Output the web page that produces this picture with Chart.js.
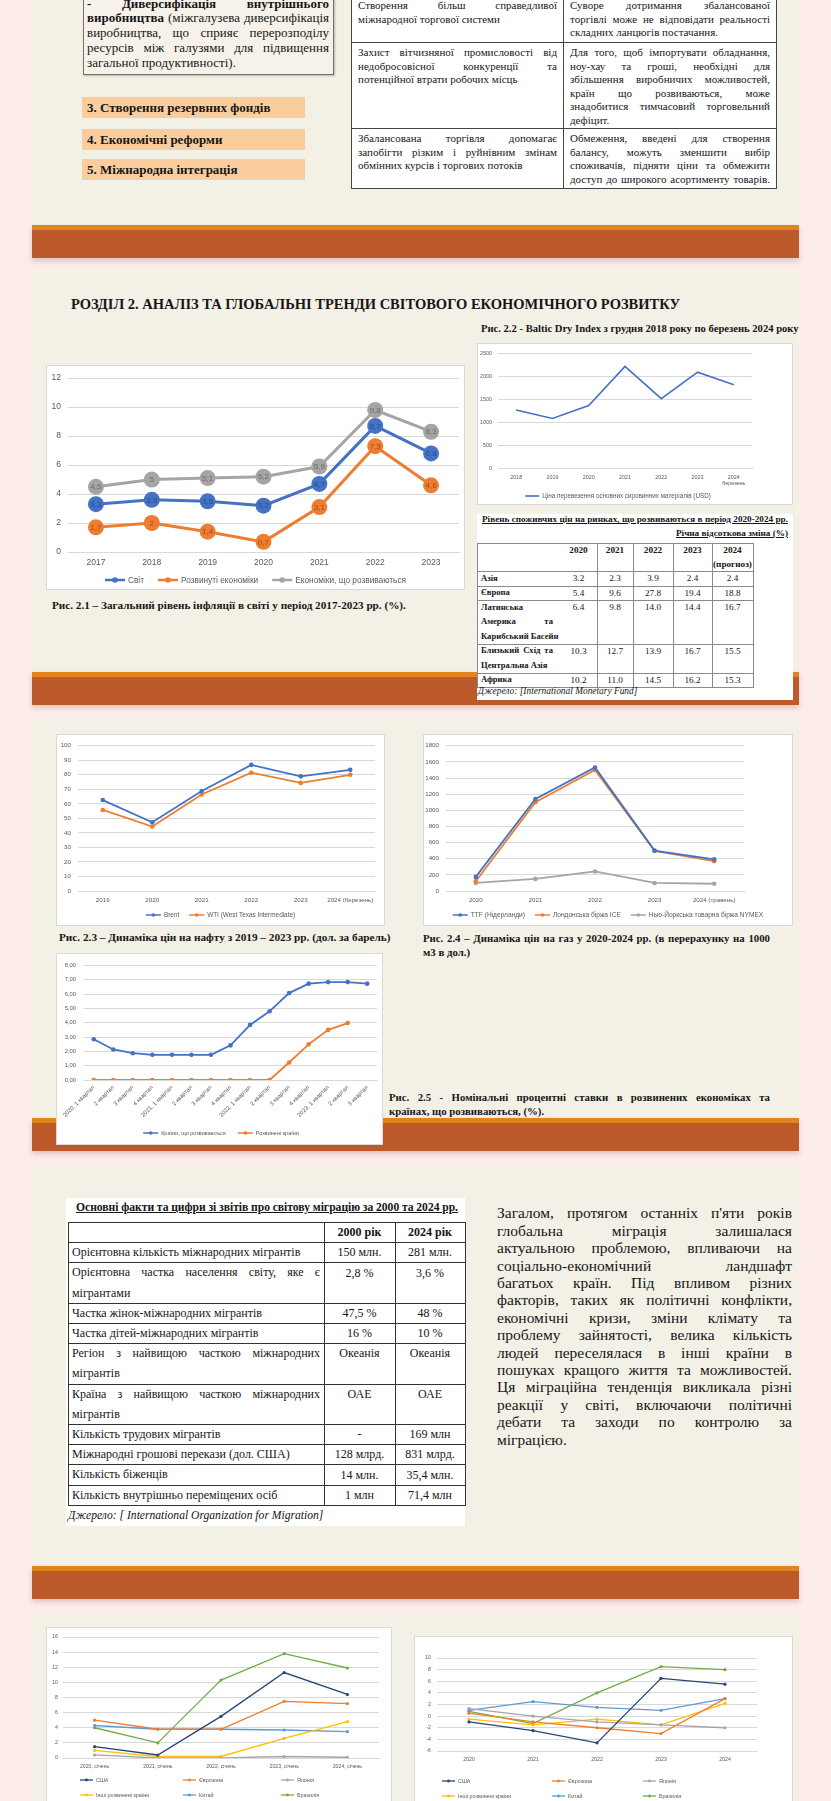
<!DOCTYPE html>
<html lang="uk">
<head>
<meta charset="utf-8">
<title>Розділ 2. Аналіз та глобальні тренди</title>
<script src="https://cdn.jsdelivr.net/npm/chart.js@4.4.1/dist/chart.umd.min.js"></script>
<style>
  html, body { margin: 0; padding: 0; }
  body { position: relative; width: 831px; height: 1801px; overflow: hidden; background: #fcecea;
         font-family: "Liberation Serif", "Times New Roman", serif; color: #161616; }
  .panel { position: absolute; left: 32px; width: 767px; background: #f3f0e6; }
  .band { position: absolute; left: 32px; width: 767px; height: 33px; background: #bc5a2c;
          border-top: 5px solid #e3821f; box-sizing: border-box; box-shadow: 0 3px 5px rgba(150, 80, 60, 0.25); }
  .box { position: absolute; background: #fff; border: 1px solid #d9d9d9; box-sizing: border-box; }
  .sheet { position: absolute; background: #fff; }
  .blk { position: absolute; }
  .ln { white-space: nowrap; }
  .hl { position: absolute; height: 1px; background: #555; }
  .vl { position: absolute; width: 1px; background: #555; }
  .tag { position: absolute; left: 82px; width: 223px; height: 21px; background: #f9cd9e;
         font-weight: bold; font-size: 13px; line-height: 21px; padding-left: 5px; box-sizing: border-box; }
  canvas { position: absolute; left: 0; top: 0; }
</style>
</head>
<body>

<div class="panel" style="top:-10px;height:235px"></div>
<div class="band" style="top:225px"></div>
<div class="panel" style="top:273px;height:399px"></div>
<div class="band" style="top:672px"></div>
<div class="panel" style="top:720px;height:398px"></div>
<div class="band" style="top:1118px"></div>
<div class="panel" style="top:1167px;height:399px"></div>
<div class="band" style="top:1566px"></div>
<div class="panel" style="top:1615px;height:200px"></div>

<!-- верхній блок -->
<div style="position:absolute;left:83px;top:-12px;width:251px;height:87px;background:#f6f2e9;border:1px solid #7d6e62;box-shadow:1px 1px 2px rgba(0,0,0,0.25);box-sizing:border-box"></div>
<div class="tag" style="top:97px">3. Створення резервних фондів</div>
<div class="tag" style="top:129px">4. Економічні реформи</div>
<div class="tag" style="top:159px">5. Міжнародна інтеграція</div>
<div class="sheet" style="left:351px;top:-10px;width:425px;height:198px"></div>

<div class="blk" style="left:71px;top:296px;font-weight:bold;font-size:14.5px;line-height:16px">РОЗДІЛ 2. АНАЛІЗ ТА ГЛОБАЛЬНІ ТРЕНДИ СВІТОВОГО ЕКОНОМІЧНОГО РОЗВИТКУ</div>

<div class="box" style="left:46px;top:365px;width:419px;height:225px"><canvas id="c21" width="417" height="223"></canvas></div>
<div class="blk" style="left:52px;top:598px;font-weight:bold;font-size:11.2px;line-height:14px">Рис. 2.1 – Загальний рівень інфляції в світі у період 2017-2023 рр. (%).</div>

<div class="blk" style="left:481px;top:323px;font-weight:bold;font-size:10.6px;line-height:12px">Рис. 2.2 - Baltic Dry Index з грудня 2018 року по березень 2024 року</div>
<div class="box" style="left:477px;top:343px;width:316px;height:162px"><canvas id="c22" width="314" height="160"></canvas></div>

<div class="sheet" style="left:477px;top:514px;width:316px;height:186px"></div>

<div class="box" style="left:56px;top:734px;width:329px;height:192px"><canvas id="c23" width="327" height="190"></canvas></div>
<div class="box" style="left:423px;top:734px;width:370px;height:192px"><canvas id="c24" width="368" height="190"></canvas></div>
<div class="blk" style="left:59px;top:930px;font-weight:bold;font-size:11.25px;line-height:14px">Рис. 2.3 – Динаміка цін на нафту з 2019 – 2023 рр. (дол. за барель)</div>

<div class="box" style="left:56px;top:953px;width:327px;height:192px"><canvas id="c25" width="325" height="190"></canvas></div>

<div class="sheet" style="left:66px;top:1198px;width:399px;height:328px"></div>

<div class="box" style="left:46px;top:1627px;width:346px;height:190px"><canvas id="cb1" width="344" height="188"></canvas></div>
<div class="box" style="left:414px;top:1636px;width:379px;height:180px"><canvas id="cb2" width="377" height="178"></canvas></div>

<script>
// Рис. 2.1 – інфляція, %
const inflYears = ["2017", "2018", "2019", "2020", "2021", "2022", "2023"];
const inflWorld = [3.3, 3.6, 3.5, 3.2, 4.7, 8.7, 6.8];
const inflAdvanced = [1.7, 2, 1.4, 0.7, 3.1, 7.3, 4.6];
const inflEmerging = [4.5, 5, 5.1, 5.2, 5.9, 9.8, 8.3];
const inflTicks = [0, 2, 4, 6, 8, 10, 12];

// Рис. 2.2 – Baltic Dry Index
const bdiYears = ["2018", "2019", "2020", "2021", "2022", "2023", ["2024", "березень"]];
const bdiValues = [1275, 1090, 1370, 2215, 1520, 2090, 1820];
const bdiTicks = [0, 500, 1000, 1500, 2000, 2500];

// Таблиця – споживчі ціни
const cpiYears = ["2020", "2021", "2022", "2023", "2024"];
const cpiRegions = [["Азія"], ["Європа"], ["Латинська", "Америка та", "Карибський Басейн"],
                    ["Близький Схід та", "Центральна Азія"], ["Африка"]];
const cpiAsia = [3.2, 2.3, 3.9, 2.4, 2.4];
const cpiEurope = [5.4, 9.6, 27.8, 19.4, 18.8];
const cpiLatAm = [6.4, 9.8, 14.0, 14.4, 16.7];
const cpiMECA = [10.3, 12.7, 13.9, 16.7, 15.5];
const cpiAfrica = [10.2, 11.0, 14.5, 16.2, 15.3];

// Рис. 2.3 – нафта
const oilYears = ["2019", "2020", "2021", "2022", "2023", "2024 (березень)"];
const oilBrent = [62.6, 47.3, 68.8, 86.8, 78.9, 83.4];
const oilWTI = [55.8, 44.4, 66.4, 81.4, 74.4, 80.0];
const oilTicks = [0, 10, 20, 30, 40, 50, 60, 70, 80, 90, 100];

// Рис. 2.4 – газ
const gasYears = ["2020", "2021", "2022", "2023", "2024 (травень)"];
const gasTTF = [175, 1140, 1530, 500, 392];
const gasICE = [120, 1100, 1500, 495, 370];
const gasNYMEX = [100, 150, 242, 100, 90];
const gasTicks = [0, 200, 400, 600, 800, 1000, 1200, 1400, 1600, 1800];

// Рис. 2.5 – процентні ставки
const rateQuarters = ["2020, 1 квартал", "2 квартал", "3 квартал", "4 квартал",
                      "2021, 1 квартал", "2 квартал", "3 квартал", "4 квартал",
                      "2022, 1 квартал", "2 квартал", "3 квартал", "4 квартал",
                      "2023, 1 квартал", "2 квартал", "3 квартал"];
const rateEmerging = [2.85, 2.13, 1.87, 1.76, 1.76, 1.76, 1.76, 2.42, 3.85, 4.8, 6.07, 6.73, 6.84, 6.84, 6.73];
const rateAdvanced = [0, 0, 0, 0, 0, 0, 0, 0, 0, 0, 1.22, 2.49, 3.5, 3.98, null];
const rateTicks = [0, 1, 2, 3, 4, 5, 6, 7, 8];

// Таблиця – міграція
const migLabels = [["Орієнтовна кількість міжнародних мігрантів"],
                   ["Орієнтовна частка населення світу, яке є", "мігрантами"],
                   ["Частка жінок-міжнародних мігрантів"],
                   ["Частка дітей-міжнародних мігрантів"],
                   ["Регіон з найвищою часткою міжнародних", "мігрантів"],
                   ["Країна з найвищою часткою міжнародних", "мігрантів"],
                   ["Кількість трудових мігрантів"],
                   ["Міжнародні грошові перекази (дол. США)"],
                   ["Кількість біженців"],
                   ["Кількість внутрішньо переміщених осіб"]];
const mig2000 = ["150 млн.", "2,8 %", "47,5 %", "16 %", "Океанія", "ОАЕ", "-", "128 млрд.", "14 млн.", "1 млн"];
const mig2024 = ["281 млн.", "3,6 %", "48 %", "10 %", "Океанія", "ОАЕ", "169 млн", "831 млрд.", "35,4 млн.", "71,4 млн"];

// Нижні графіки
const bottomPeriods = ["2020, січень", "2021, січень", "2022, січень", "2023, січень", "2024, січень"];
const leftUS = [1.5, 0.4, 5.5, 11.3, 8.4];
const leftEuro = [5.0, 3.8, 3.8, 7.5, 7.2];
const leftJapan = [0.4, 0.0, 0.0, 0.2, 0.1];
const leftOther = [1.0, 0.2, 0.2, 2.6, 4.8];
const leftChina = [4.3, 3.8, 3.8, 3.7, 3.5];
const leftBrazil = [4.0, 2.0, 10.3, 13.8, 11.9];
const leftTicks = [0, 2, 4, 6, 8, 10, 12, 14, 16];
const rightYears = ["2020", "2021", "2022", "2023", "2024"];
const rightUS = [-1.0, -2.5, -4.6, 6.5, 5.5];
const rightEuro = [0.5, -1.0, -2.0, -3.0, 3.0];
const rightJapan = [1.3, 0.0, -1.0, -1.5, -2.0];
const rightOther = [-0.5, -1.5, -0.5, -1.5, 2.2];
const rightChina = [1.0, 2.5, 1.5, 1.0, 3.0];
const rightBrazil = [0.8, -1.3, 4.0, 8.5, 8.0];
const rightTicks = [-6, -4, -2, 0, 2, 4, 6, 8, 10];

const BLUE = "#4472c4", ORANGE = "#ed7d31", GRAY = "#a5a5a5";
const YELLOW = "#ffc000", LBLUE = "#5b9bd5", GREEN = "#70ad47", NAVY = "#264478";
const SANS = '"Liberation Sans", Arial, sans-serif';

// --- текстові блоки з вирівнюванням по ширині ---
function block(x, y, w, lh, css, lines, justifyLast) {
  const host = document.createElement("div");
  host.className = "blk";
  host.style.cssText += `left:${x}px;top:${y - lh / 2}px;width:${w}px;line-height:${lh}px;${css}`;
  document.body.appendChild(host);
  lines.forEach((t, i) => {
    const d = document.createElement("div");
    d.className = "ln";
    const s = document.createElement("span");
    s.innerHTML = t;
    d.appendChild(s);
    host.appendChild(d);
    if (i < lines.length - 1 || justifyLast) {
      const gaps = (s.textContent.trim().match(/ +/g) || []).length;
      const extra = w - s.getBoundingClientRect().width;
      if (gaps) s.style.wordSpacing = extra / gaps + "px";
    }
  });
  return host;
}
function hline(x1, x2, y, color) {
  const d = document.createElement("div");
  d.className = "hl";
  d.style.cssText += `left:${x1}px;top:${y}px;width:${x2 - x1 + 1}px;` + (color ? `background:${color}` : "");
  document.body.appendChild(d);
}
function vline(x, y1, y2, color) {
  const d = document.createElement("div");
  d.className = "vl";
  d.style.cssText += `left:${x}px;top:${y1}px;height:${y2 - y1}px;` + (color ? `background:${color}` : "");
  document.body.appendChild(d);
}
function centered(cx, y, txt, css) {
  const d = document.createElement("div");
  d.className = "blk";
  d.style.cssText += `left:${cx - 60}px;width:120px;text-align:center;top:${y - 8}px;line-height:16px;${css}`;
  d.textContent = txt;
  document.body.appendChild(d);
}

// верхній текстовий блок
block(87, 4, 242, 14.8, "font-size:13px", [
  "<b>-  Диверсифікація внутрішнього</b>",
  "<b>виробництва</b> (міжгалузева диверсифікація",
  "виробництва, що сприяє перерозподілу",
  "ресурсів між галузями для підвищення",
  "загальної продуктивності)."
]);

// верхня таблиця
const tt = "font-size:11px";
[42, 128, 188].forEach(y => hline(351, 776, y, "#444"));
vline(351, -10, 189, "#444"); vline(563, -10, 189, "#444"); vline(776, -10, 189, "#444");
block(358, 6, 199, 13.5, tt, ["Створення більш справедливої", "міжнародної торгової системи"]);
block(570, 6, 200, 13.5, tt, ["Суворе дотримання збалансованої", "торгівлі може не відповідати реальності", "складних ланцюгів постачання."]);
block(358, 53, 199, 13.5, tt, ["Захист вітчизняної промисловості від", "недобросовісної конкуренції та", "потенційної втрати робочих місць"]);
block(570, 53, 200, 13.5, tt, ["Для того, щоб імпортувати обладнання,", "ноу-хау та гроші, необхідні для",
  "збільшення виробничих можливостей,", "країн що розвиваються, може", "знадобитися тимчасовий торговельний", "дефіцит."]);
block(358, 139, 199, 13.5, tt, ["Збалансована торгівля допомагає", "запобігти різким і руйнівним змінам", "обмінних курсів і торгових потоків"]);
block(570, 139, 200, 13.5, tt, ["Обмеження, введені для створення", "балансу, можуть зменшити вибір",
  "споживачів, підняти ціни та обмежити", "доступ до широкого асортименту товарів."], true);

// таблиця споживчих цін
block(482, 519, 306, 12, "font-size:9.2px;font-weight:bold;text-decoration:underline",
  ["Рівень споживчих цін на ринках, що розвиваються в період 2020-2024 рр."], true);
const sub = block(600, 533, 188, 12, "font-size:9.2px;font-weight:bold;text-decoration:underline",
  ["Річна відсоткова зміна (%)"]);
sub.firstChild.style.textAlign = "right";
const cpiRows = [cpiAsia, cpiEurope, cpiLatAm, cpiMECA, cpiAfrica];
const cpiCols = [560, 597, 633, 673, 712, 753];
const cpiTops = [543, 571];
cpiRegions.forEach(r => cpiTops.push(cpiTops[cpiTops.length - 1] + 14.5 * r.length));
cpiTops.forEach(y => hline(477, 753, Math.round(y), "#8a8a8a"));
[477, 597, 633, 673, 712, 753].forEach(x => vline(x, 543, Math.round(cpiTops[cpiTops.length - 1]) + 1, "#8a8a8a"));
cpiYears.forEach((yr, i) => {
  const cx = (cpiCols[i] + cpiCols[i + 1]) / 2;
  centered(cx, 550, yr, "font-size:9.2px;font-weight:bold");
  if (i === 4) centered(cx, 564, "(прогноз)", "font-size:9.2px;font-weight:bold");
});
cpiRegions.forEach((r, k) => {
  const y = cpiTops[k + 1] + 7.2;
  block(481, y, 72, 14.5, "font-size:8.6px;font-weight:bold", r);
  cpiRows[k].forEach((v, i) => centered((cpiCols[i] + cpiCols[i + 1]) / 2, y, v.toFixed(1), "font-size:9.2px"));
});
block(478, 691, 300, 12, "font-size:9.4px;font-style:italic", ["Джерело: [International Monetary Fund]"]);

// підписи рисунків
block(423, 938, 347, 14, "font-size:10.8px;font-weight:bold",
  ["Рис. 2.4 – Динаміка цін на газ у 2020-2024 рр. (в перерахунку на 1000", "м3 в дол.)"]);
block(389, 1097, 381, 14, "font-size:10.8px;font-weight:bold",
  ["Рис. 2.5 - Номінальні процентні ставки в розвинених економіках та", "країнах, що розвиваються, (%)."]);

// таблиця міграції
block(76, 1208, 382, 14, "font-size:11.6px;font-weight:bold;text-decoration:underline",
  ["Основні факти та цифри зі звітів про світову міграцію за 2000 та 2024 рр."], true);
const LH = 20.2;
const migTops = [1222, 1222 + LH];
migLabels.forEach(r => migTops.push(migTops[migTops.length - 1] + LH * r.length));
migTops.forEach(y => hline(68, 465, Math.round(y), "#333"));
[68, 324, 395, 465].forEach(x => vline(x, 1222, Math.round(migTops[migTops.length - 1]) + 1, "#333"));
centered(359.5, 1232, "2000 рік", "font-size:12px;font-weight:bold");
centered(430, 1232, "2024 рік", "font-size:12px;font-weight:bold");
migLabels.forEach((r, k) => {
  const y = migTops[k + 1] + LH / 2;
  block(72, y, 248, LH, "font-size:12px", r);
  centered(359.5, y, mig2000[k], "font-size:12px");
  centered(430, y, mig2024[k], "font-size:12px");
});
block(68, 1516, 380, 14, "font-size:11.6px;font-style:italic", ["Джерело: [ International Organization for Migration]"]);

block(497, 1213, 295, 17.4, "font-size:15.5px", [
  "Загалом, протягом останніх п'яти років",
  "глобальна міграція залишалася",
  "актуальною проблемою, впливаючи на",
  "соціально-економічний ландшафт",
  "багатьох країн. Під впливом різних",
  "факторів, таких як політичні конфлікти,",
  "економічні кризи, зміни клімату та",
  "проблему зайнятості, велика кількість",
  "людей переселялася в інші країни в",
  "пошуках кращого життя та можливостей.",
  "Ця міграційна тенденція викликала різні",
  "реакції у світі, включаючи політичні",
  "дебати та заходи по контролю за",
  "міграцією."
]);

// --- плагіни Chart.js ---
const xlLegend = {
  id: "xlLegend",
  afterDraw(chart, args, o) {
    if (!o || !o.show) return;
    const ctx = chart.ctx, ds = chart.data.datasets, L = o.lineLen || 16;
    ctx.save();
    ctx.font = o.font;
    ctx.textBaseline = "middle";
    let pos = o.pos;
    if (!pos) {
      const widths = ds.map(d => L + 3 + ctx.measureText(d.label).width);
      const total = widths.reduce((a, b) => a + b, 0) + (ds.length - 1) * o.gap;
      let x = (o.cx != null ? o.cx : chart.width / 2) - total / 2;
      pos = widths.map(w => { const p = [x, o.y]; x += w + o.gap; return p; });
    }
    ds.forEach((d, i) => {
      const [x, y] = pos[i];
      ctx.strokeStyle = d.borderColor;
      ctx.lineWidth = o.lineWidth || 2;
      ctx.beginPath(); ctx.moveTo(x, y); ctx.lineTo(x + L, y); ctx.stroke();
      if (o.marker) {
        ctx.fillStyle = d.borderColor;
        ctx.beginPath(); ctx.arc(x + L / 2, y, o.marker, 0, Math.PI * 2); ctx.fill();
      }
      ctx.fillStyle = "#595959";
      ctx.fillText(d.label, x + L + 3, y + 0.5);
    });
    ctx.restore();
  }
};
const ptLabels = {
  id: "ptLabels",
  afterDatasetsDraw(chart, args, o) {
    if (!o || !o.show) return;
    const ctx = chart.ctx;
    ctx.save();
    ctx.font = o.font;
    ctx.textAlign = "center";
    ctx.textBaseline = "middle";
    chart.data.datasets.forEach((d, i) => {
      chart.getDatasetMeta(i).data.forEach((el, j) => {
        const v = d.data[j];
        if (v == null) return;
        ctx.fillStyle = d.labelColor;
        ctx.fillText(String(v).replace(".", ","), el.x, el.y + 0.5);
      });
    });
    ctx.restore();
  }
};

function series(label, data, color, width, radius, extra) {
  return Object.assign({ label, data, borderColor: color, backgroundColor: color, borderWidth: width,
    pointRadius: radius, pointBorderWidth: 0, pointBackgroundColor: color, tension: 0, spanGaps: false }, extra || {});
}

function lineChart(id, labels, datasets, o) {
  const canvas = document.getElementById(id);
  const w = canvas.width, h = canvas.height;
  const [l, t, r, b] = o.area;
  const ticks = o.ticks;
  return new Chart(canvas, {
    type: "line",
    data: { labels, datasets },
    options: {
      responsive: false,
      animation: false,
      layout: { padding: { left: 0, top: t, right: w - r, bottom: 0 }, autoPadding: false },
      plugins: { legend: { display: false }, tooltip: { enabled: false }, xlLegend: o.legend, ptLabels: o.labels || {} },
      scales: {
        x: {
          offset: true,
          grid: { display: false, drawTicks: false },
          border: { display: true, color: "#d9d9d9" },
          ticks: { color: "#595959", font: { family: SANS, size: o.font }, padding: o.xPad,
                   autoSkip: false, maxRotation: o.rot || 0, minRotation: o.rot || 0 },
          afterFit: s => { s.height = h - b; }
        },
        y: {
          min: ticks[0], max: ticks[ticks.length - 1],
          grid: { color: "#d9d9d9", drawTicks: false },
          border: { display: false },
          ticks: { stepSize: ticks[1] - ticks[0], color: "#595959", font: { family: SANS, size: o.font },
                   padding: o.yPad, callback: o.fmt || (v => v) },
          afterFit: s => { s.width = l; }
        }
      }
    },
    plugins: [xlLegend, ptLabels]
  });
}

lineChart("c21", inflYears, [
  series("Світ", inflWorld, BLUE, 3, 8, { labelColor: "#2c4f8f" }),
  series("Розвинуті економіки", inflAdvanced, ORANGE, 3, 8, { labelColor: "#a14d14" }),
  series("Економіки, що розвиваються", inflEmerging, GRAY, 3, 8, { labelColor: "#6b6b6b" })
], { area: [21, 8, 412, 186], ticks: inflTicks, font: 8.5, xPad: 6, yPad: 7,
     labels: { show: true, font: `8px ${SANS}` },
     legend: { show: true, y: 214, font: `8.3px ${SANS}`, gap: 14, lineLen: 20, marker: 2.8, lineWidth: 2.5 } });

lineChart("c22", bdiYears, [
  series("Ціна перевезення основних сировинних матеріалів (USD)", bdiValues, BLUE, 1.6, 0)
], { area: [20, 5, 274, 125], ticks: bdiTicks, font: 5.4, xPad: 5, yPad: 6,
     legend: { show: true, y: 152, cx: 140, font: `6.3px ${SANS}`, gap: 8, lineLen: 14, lineWidth: 1.6 } });

lineChart("c23", oilYears, [
  series("Brent", oilBrent, BLUE, 1.8, 2.3),
  series("WTI (West Texas Intermediate)", oilWTI, ORANGE, 1.8, 2.3)
], { area: [21, 8, 318, 156], ticks: oilTicks, font: 6.2, xPad: 6, yPad: 7,
     legend: { show: true, y: 180, font: `6.4px ${SANS}`, gap: 10, lineLen: 15, marker: 1.8, lineWidth: 1.5 } });

lineChart("c24", gasYears, [
  series("TTF (Нідерланди)", gasTTF, BLUE, 1.8, 2.3),
  series("Лондонська біржа ICE", gasICE, ORANGE, 1.8, 2.3),
  series("Нью-Йоркська товарна біржа NYMEX", gasNYMEX, GRAY, 1.8, 2.3)
], { area: [22, 8, 320, 156], ticks: gasTicks, font: 6.2, xPad: 6, yPad: 7,
     legend: { show: true, y: 180, font: `6.6px ${SANS}`, gap: 10, lineLen: 15, marker: 1.8, lineWidth: 1.5 } });

lineChart("c25", rateQuarters, [
  series("Країни, що розвиваються", rateEmerging, BLUE, 1.8, 2.3),
  series("Розвинені країни", rateAdvanced, ORANGE, 1.8, 2.3)
], { area: [27, 7, 320, 126], ticks: rateTicks, font: 5.8, xPad: 4, yPad: 8, rot: 45,
     fmt: v => v.toFixed(2).replace(".", ","),
     legend: { show: true, y: 179, cx: 164, font: `5.5px ${SANS}`, gap: 12, lineLen: 15, marker: 1.8, lineWidth: 1.5 } });

const bottomLegendFont = `5.4px ${SANS}`;
lineChart("cb1", bottomPeriods, [
  series("США", leftUS, NAVY, 1.3, 1.6),
  series("Єврозона", leftEuro, ORANGE, 1.3, 1.6),
  series("Японія", leftJapan, GRAY, 1.3, 1.6),
  series("Інші розвинені країни", leftOther, YELLOW, 1.3, 1.6),
  series("Китай", leftChina, LBLUE, 1.3, 1.6),
  series("Бразилія", leftBrazil, GREEN, 1.3, 1.6)
], { area: [16, 9, 332, 130], ticks: leftTicks, font: 5.2, xPad: 5, yPad: 5,
     legend: { show: true, font: bottomLegendFont, lineLen: 13, marker: 1.4, lineWidth: 1.3,
               pos: [[33, 152], [136, 152], [234, 152], [33, 167], [136, 167], [234, 167]] } });

lineChart("cb2", rightYears, [
  series("США", rightUS, NAVY, 1.3, 1.6),
  series("Єврозона", rightEuro, ORANGE, 1.3, 1.6),
  series("Японія", rightJapan, GRAY, 1.3, 1.6),
  series("Інші розвинені країни", rightOther, YELLOW, 1.3, 1.6),
  series("Китай", rightChina, LBLUE, 1.3, 1.6),
  series("Бразилія", rightBrazil, GREEN, 1.3, 1.6)
], { area: [22, 21, 342, 114], ticks: rightTicks, font: 5.2, xPad: 5, yPad: 6,
     legend: { show: true, font: bottomLegendFont, lineLen: 13, marker: 1.4, lineWidth: 1.3,
               pos: [[27, 144], [137, 144], [228, 144], [27, 159], [137, 159], [228, 159]] } });
</script>
</body>
</html>
